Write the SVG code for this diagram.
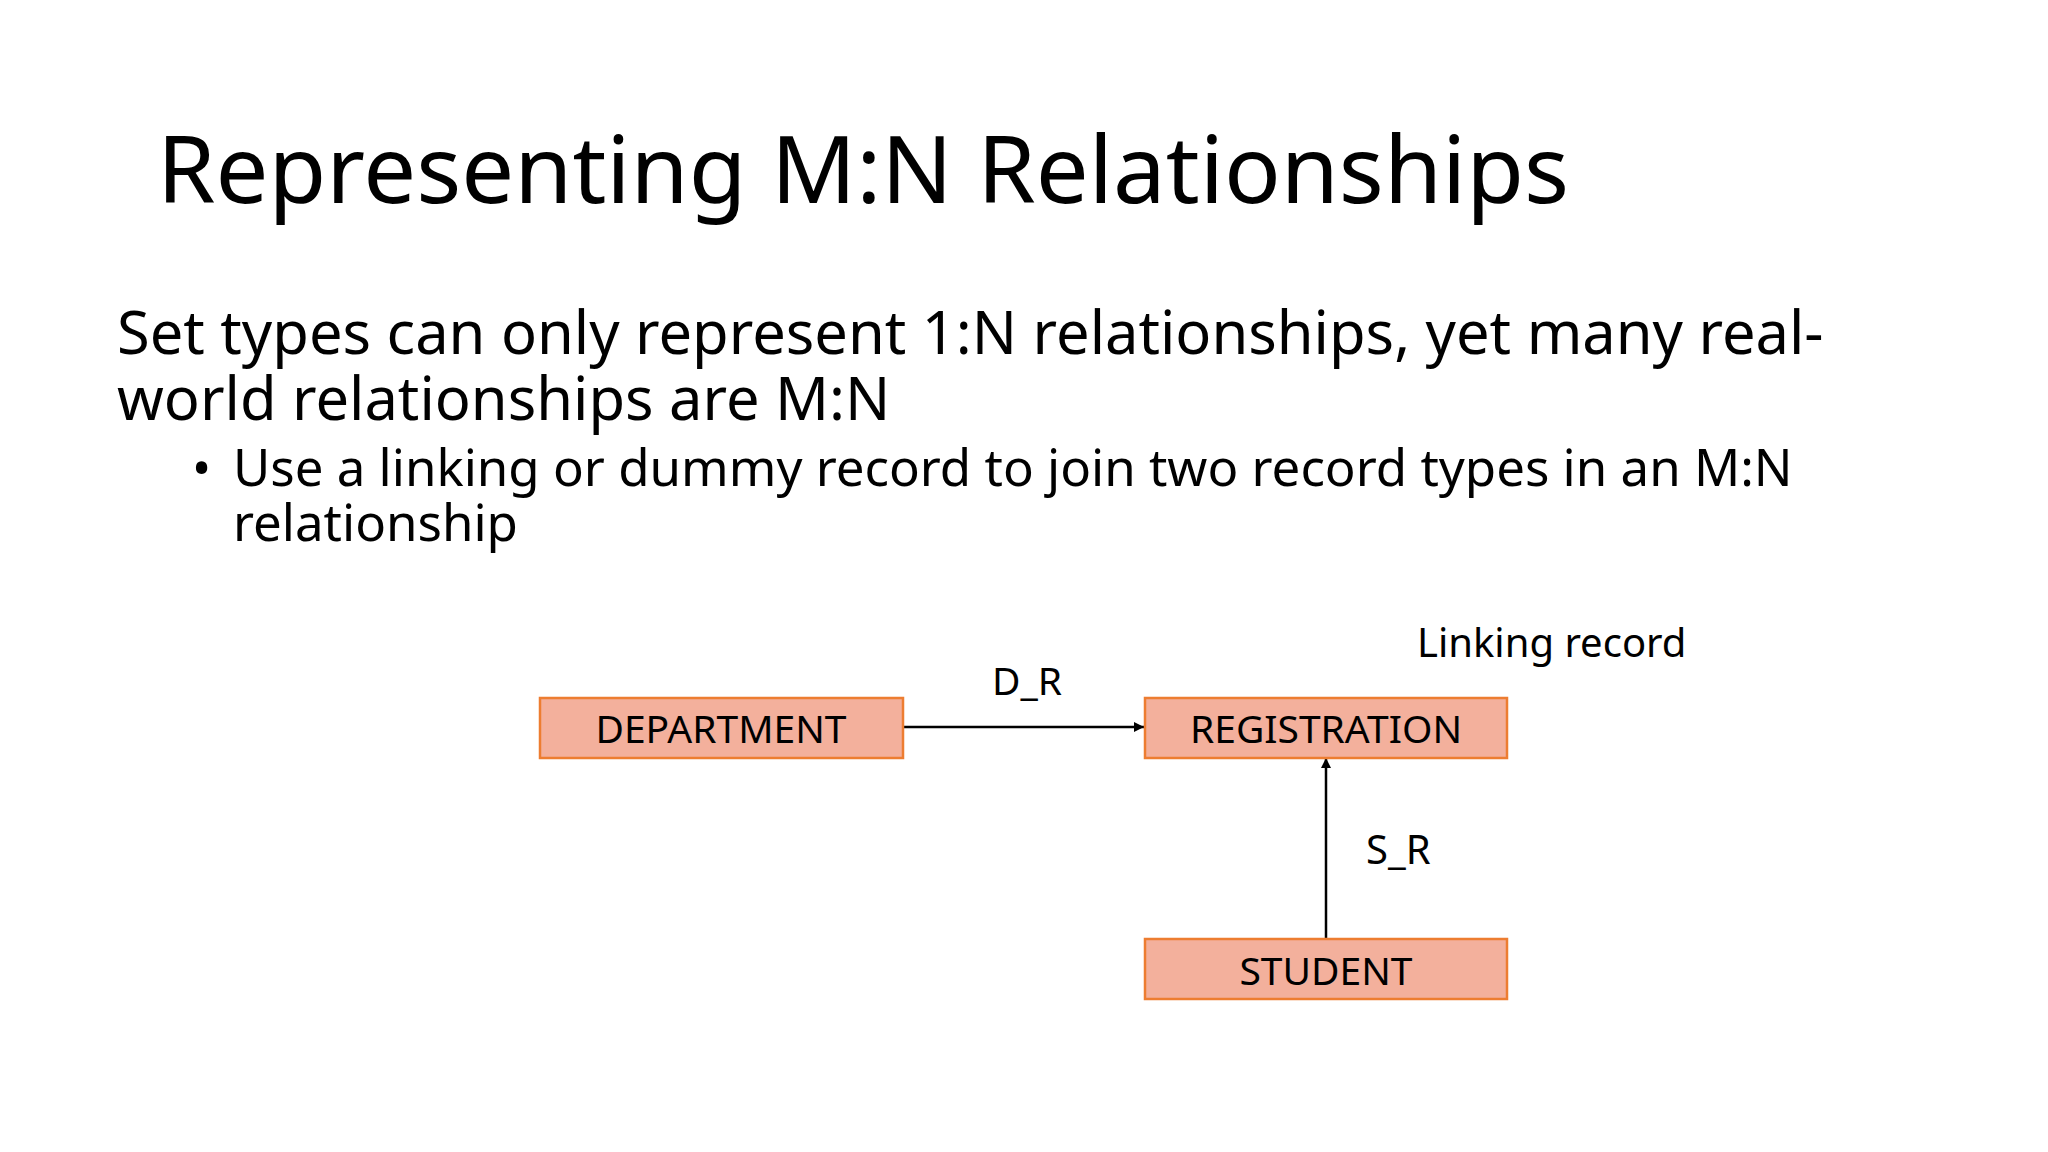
<svg xmlns="http://www.w3.org/2000/svg" width="2048" height="1152" viewBox="0 0 2048 1152">
<style>
text { font-family: "Noto Sans", "Open Sans", sans-serif; fill: #000; }
.title { font-size: 94px; }
.body { font-size: 59.6px; }
.sub { font-size: 51px; }
.box { fill: #F3B09C; stroke: #ED7D31; stroke-width: 2.5; }
.lbl { font-size: 39px; text-anchor: middle; }
.edge { font-size: 40px; }
.conn { stroke: #000; stroke-width: 2.5; fill: none; }
</style>
<defs>
<marker id="arr" viewBox="0 0 10 10" refX="10" refY="5" markerWidth="10" markerHeight="10" markerUnits="userSpaceOnUse" orient="auto">
<path d="M0,0 L10,5 L0,10 Z" fill="#000"/>
</marker>
</defs>
<rect width="2048" height="1152" fill="#fff"/>
<text class="title" x="157" y="203">Representing M:N Relationships</text>
<text class="body" x="117" y="354">Set types can only represent 1:N relationships, yet many real-</text>
<text class="body" x="117" y="420">world relationships are M:N</text>
<text class="sub" x="192" y="486">•</text>
<text class="sub" x="233" y="486">Use a linking or dummy record to join two record types in an M:N</text>
<text class="sub" x="233" y="541">relationship</text>
<text class="edge" x="1417" y="657">Linking record</text>
<g id="connectors">
<line class="conn" x1="903" y1="727" x2="1144" y2="727" marker-end="url(#arr)"/>
<line class="conn" x1="1326" y1="939" x2="1326" y2="758" marker-end="url(#arr)"/>
<text class="edge" x="1027" y="695" text-anchor="middle" style="font-size:39px">D_R</text>
<text class="edge" x="1366" y="864">S_R</text>
</g>
<g id="department">
<rect class="box" x="540" y="698" width="363" height="60"/>
<text class="lbl" x="721" y="743">DEPARTMENT</text>
</g>
<g id="registration">
<rect class="box" x="1145" y="698" width="362" height="60"/>
<text class="lbl" x="1326" y="743">REGISTRATION</text>
</g>
<g id="student">
<rect class="box" x="1145" y="939" width="362" height="60"/>
<text class="lbl" x="1326" y="985">STUDENT</text>
</g>
</svg>
